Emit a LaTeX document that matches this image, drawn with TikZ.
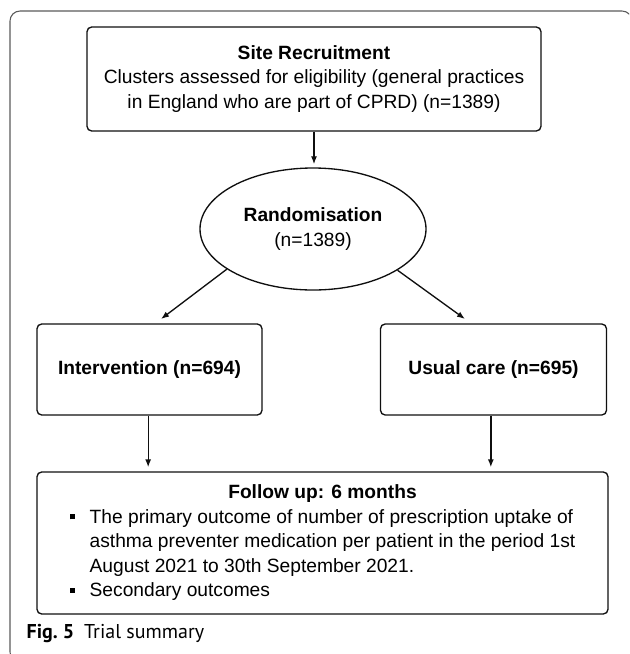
\documentclass[tikz,border=0pt]{standalone}
\usepackage{fontspec}
\setmainfont{Liberation Sans}
\newfontfamily\capfont{PT Sans}
\usetikzlibrary{arrows.meta,calc,positioning,shapes.geometric}
\newcommand\sqbul{\rule[3pt]{4pt}{4pt}}

\begin{document}
\begin{tikzpicture}[x=0.75pt,y=-0.75pt,line width=1pt]
  \definecolor{framegray}{RGB}{90,90,90}
  \definecolor{boxline}{RGB}{15,15,15}
  \tikzset{txt/.style={font=\fontsize{14.4}{18.4}\selectfont,align=center,inner sep=0pt},
    box/.style={txt,draw=boxline,rounded corners=3.5pt},
    arr/.style={boxline,-{Latex[length=6pt,width=4.5pt]}}}
  \useasboundingbox (0,0) rectangle (629,654);
  % outer frame, open at the bottom and right
  \begin{scope}
    \clip (0,0) rectangle (629,654);
    \draw[framegray,line width=0.8pt,rounded corners=7.5pt] (10,11) rectangle (632,662);
  \end{scope}
  \node[box,minimum width=340.5pt,minimum height=78pt] (site) at (314,79)
    {\textbf{Site Recruitment}\\Clusters assessed for eligibility (general practices\\in England who are part of CPRD) (n=1389)};
  \node[txt,draw=boxline,ellipse,minimum width=169.5pt,minimum height=91.5pt] (rand) at (313,229)
    {\textbf{Randomisation}\\(n=1389)};
  \node[box,minimum width=168.75pt,minimum height=68.25pt] (int) at (149.5,369.5)
    {\textbf{Intervention (n=694)}};
  \node[box,minimum width=169.5pt,minimum height=68.25pt] (usual) at (493.5,369.5)
    {\textbf{Usual care (n=695)}};
  \node[box,minimum width=428.25pt,minimum height=106.5pt] (follow) at (322.5,543)
    {\begin{tabular}{@{}l@{\hspace{11pt}}l@{}}
      \multicolumn{2}{c}{\textbf{Follow up: 6 months}}\\
      \sqbul & The primary outcome of number of prescription uptake of\\
      & asthma preventer medication per patient in the period 1st\\
      & August 2021 to 30th September 2021.\\
      \sqbul & Secondary outcomes
    \end{tabular}};
  \coordinate (intTip) at (161,319);
  \coordinate (usualTip) at (465,319);
  \draw[arr,shorten >=2.3pt] (site.south) -- (site.south |- rand.north);
  \draw[arr] (rand.205) -- (intTip);
  \draw[arr] (rand.334) -- (usualTip);
  \draw[arr,shorten >=3pt] ([xshift=-1pt]int.south) -- ([xshift=-1pt]int.south |- follow.north);
  \draw[arr,shorten >=3pt] ([xshift=-2pt]usual.south) -- ([xshift=-2pt]usual.south |- follow.north);
  \node[font=\capfont\fontsize{15}{17}\selectfont,anchor=west,inner sep=0pt] (cap) at (26,634)
    {\textbf{Fig.~5}\hspace{0.5em}Trial summary};
\end{tikzpicture}
\end{document}
